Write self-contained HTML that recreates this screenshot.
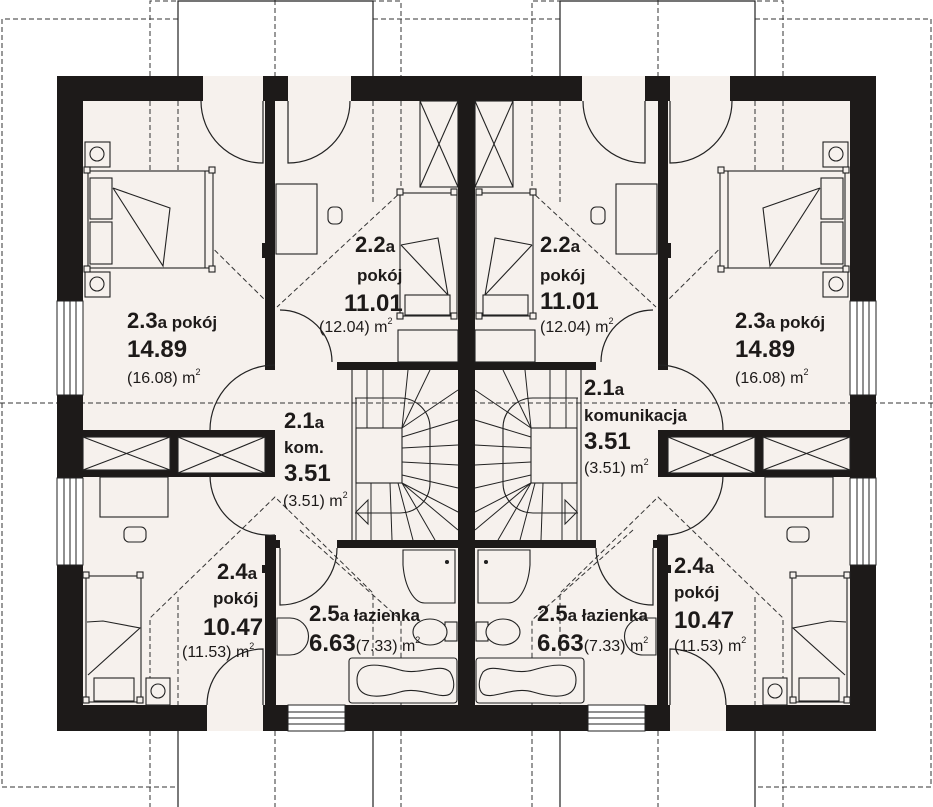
<!DOCTYPE html>
<html><head><meta charset="utf-8"><style>
html,body{margin:0;padding:0;background:#fff;}
svg{display:block;}
text{font-family:"Liberation Sans",Arial,sans-serif;fill:#1d1a19;}
.b{font-weight:bold;}
.m{font-weight:bold;font-size:17px;}
</style></head><body>
<svg width="933" height="807" viewBox="0 0 933 807" xmlns="http://www.w3.org/2000/svg">
<defs>
<g id="L">
  <rect x="57" y="76" width="410" height="655" fill="#f6f1ed"/>
  <g fill="none" stroke="#333" stroke-width="1" stroke-dasharray="5,3">
    <polyline points="178,19 2,19 2,787 178,787"/>
    <polyline points="150,76 150,1 401,1 401,76"/>
    <line x1="275" y1="0" x2="275" y2="76"/>
    <line x1="373" y1="19" x2="467" y2="19"/>
    <line x1="0" y1="403" x2="467" y2="403"/>
    <polyline points="150,101 150,186 265,300"/>
    <line x1="178" y1="101" x2="178" y2="213"/>
    <line x1="373" y1="101" x2="373" y2="205"/>
    <polyline points="401,101 401,192 277,307"/>
    <polyline points="150,705 150,618 275,497 373,593 373,705"/>
    <line x1="178" y1="597" x2="178" y2="705"/>
    <polyline points="300,530 401,620 401,705"/>
    <polyline points="150,731 150,807"/>
    <line x1="275" y1="731" x2="275" y2="807"/>
    <line x1="401" y1="731" x2="401" y2="807"/>
  </g>
  <g fill="none" stroke="#222" stroke-width="1.2">
    <polyline points="178,76 178,1 373,1 373,76"/>
    <line x1="178" y1="731" x2="178" y2="807"/>
    <line x1="373" y1="731" x2="373" y2="807"/>
  </g>
  <g fill="#1d1a19">
    <rect x="57" y="76" width="146" height="25"/>
    <rect x="263" y="76" width="25" height="25"/>
    <rect x="351" y="76" width="116" height="25"/>
    <rect x="57" y="76" width="26" height="225"/>
    <rect x="57" y="395" width="26" height="83"/>
    <rect x="57" y="565" width="26" height="166"/>
    <rect x="57" y="705" width="150" height="26"/>
    <rect x="263" y="705" width="25" height="26"/>
    <rect x="345" y="705" width="122" height="26"/>
    <rect x="458" y="76" width="9" height="655"/>
    <rect x="265" y="101" width="10" height="269"/>
    <rect x="262" y="243" width="5" height="15"/>
    <rect x="83" y="430" width="192" height="7"/>
    <rect x="170" y="430" width="8" height="47"/>
    <rect x="265" y="430" width="10" height="47"/>
    <rect x="83" y="470" width="95" height="7"/>
    <rect x="178" y="473" width="97" height="4"/>
    <rect x="265" y="535" width="11" height="170"/>
    <rect x="262" y="565" width="5" height="8"/>
    <rect x="337" y="362" width="130" height="8"/>
    <rect x="412" y="347" width="23" height="18"/>
    <rect x="337" y="540" width="130" height="8"/>
    <rect x="265" y="540" width="15" height="8"/>
  </g>
  <g fill="#fff" stroke="#222" stroke-width="1">
    <rect x="57" y="301" width="26" height="94"/>
    <rect x="57" y="478" width="26" height="87"/>
    <rect x="288" y="705" width="57" height="26"/>
  </g>
  <g stroke="#222" stroke-width="1">
    <line x1="64" y1="301" x2="64" y2="395"/><line x1="70" y1="301" x2="70" y2="395"/><line x1="76" y1="301" x2="76" y2="395"/>
    <line x1="64" y1="478" x2="64" y2="565"/><line x1="70" y1="478" x2="70" y2="565"/><line x1="76" y1="478" x2="76" y2="565"/>
    <line x1="288" y1="712" x2="345" y2="712"/><line x1="288" y1="718" x2="345" y2="718"/><line x1="288" y1="724" x2="345" y2="724"/>
  </g>
  <g fill="none" stroke="#222" stroke-width="1.2">
    <path d="M201,101 A62,62 0 0 0 263,163 L263,101"/>
    <path d="M350,101 A62,62 0 0 1 288,163 L288,101"/>
    <path d="M210,430 A65,65 0 0 1 275,365"/>
    <path d="M210,475 A60,60 0 0 0 275,535"/>
    <path d="M280,310 A52,52 0 0 1 332,362"/>
    <path d="M337,548 A57,57 0 0 1 280,605 L280,548"/>
    <path d="M207,705 A56,56 0 0 1 263,649 L263,705"/>
  </g>
  <g fill="#f6f1ed" stroke="#222" stroke-width="1.1">
    <rect x="85" y="142" width="25" height="25"/><circle cx="97" cy="154" r="7"/>
    <rect x="85" y="272" width="25" height="25"/><circle cx="97" cy="284" r="7"/>
    <rect x="88" y="171" width="125" height="97"/>
    <rect x="90" y="178" width="22" height="41"/><rect x="90" y="222" width="22" height="42"/>
    <line x1="205" y1="171" x2="205" y2="268"/>
    <polyline points="113,188 170,208 163,266 113,188" fill="none"/>
    <rect x="84" y="167" width="6" height="6"/><rect x="84" y="266" width="6" height="6"/>
    <rect x="209" y="167" width="6" height="6"/><rect x="209" y="266" width="6" height="6"/>
    <rect x="420" y="101" width="38" height="86"/>
    <line x1="420" y1="101" x2="458" y2="187"/><line x1="458" y1="101" x2="420" y2="187"/>
    <rect x="276" y="184" width="41" height="70"/>
    <rect x="328" y="207" width="14" height="17" rx="5"/>
    <rect x="398" y="330" width="60" height="32"/>
    <rect x="400" y="193" width="57" height="123"/>
    <polyline points="401,245 438,238 448,295 401,245" fill="none"/>
    <rect x="405" y="295" width="45" height="20"/>
    <rect x="397" y="189" width="6" height="6"/><rect x="451" y="189" width="6" height="6"/>
    <rect x="397" y="313" width="6" height="6"/><rect x="451" y="313" width="6" height="6"/>
    <rect x="83" y="437" width="87" height="33"/>
    <line x1="83" y1="437" x2="170" y2="470"/><line x1="170" y1="437" x2="83" y2="470"/>
    <rect x="178" y="437" width="87" height="36"/>
    <line x1="178" y1="437" x2="265" y2="473"/><line x1="265" y1="437" x2="178" y2="473"/>
    <rect x="100" y="477" width="68" height="40"/>
    <rect x="124" y="527" width="22" height="15" rx="5"/>
    <rect x="86" y="576" width="55" height="126"/>
    <polyline points="87,622 103,621 140,628 88,675" fill="none"/>
    <rect x="94" y="678" width="40" height="23"/>
    <rect x="83" y="572" width="6" height="6"/><rect x="137" y="572" width="6" height="6"/>
    <rect x="83" y="697" width="6" height="6"/><rect x="137" y="697" width="6" height="6"/>
    <rect x="146" y="678" width="24" height="27"/><circle cx="158" cy="691" r="7"/>
    <path d="M403,550 L455,550 L455,603 L425,603 A22,45 0 0 1 403,565 Z"/>
    <circle cx="447" cy="562" r="1.5" fill="#222"/>
    <rect x="445" y="622" width="12" height="19"/>
    <ellipse cx="430" cy="632" rx="17" ry="13"/>
    <rect x="349" y="658" width="108" height="45" rx="3"/>
    <path d="M357,680 C357,660 380,664 400,670 C420,676 440,662 450,672 C455,680 455,690 450,694 C440,700 420,686 400,692 C380,698 357,700 357,680 Z"/>
    <path d="M277,618 L290,618 A18,18 0 0 1 290,655 L277,655 Z"/>
    <path d="M355,398 L400,398 A30,30 0 0 1 430,428 L430,483 A30,30 0 0 1 400,513 L355,513" fill="none"/>
    <line x1="352" y1="370" x2="352" y2="540"/>
    <rect x="356" y="428" width="46" height="55"/>
  </g>
  <g stroke="#222" stroke-width="1" fill="none">
    <line x1="367" y1="370" x2="367" y2="428"/><line x1="383" y1="370" x2="383" y2="428"/>
    <line x1="402" y1="428" x2="408" y2="370"/><line x1="402" y1="428" x2="430" y2="370"/>
    <line x1="402" y1="428" x2="458" y2="390"/><line x1="402" y1="437" x2="458" y2="420"/>
    <line x1="402" y1="448" x2="458" y2="445"/><line x1="402" y1="462" x2="458" y2="465"/>
    <line x1="402" y1="475" x2="458" y2="488"/><line x1="402" y1="483" x2="458" y2="512"/>
    <line x1="402" y1="483" x2="458" y2="530"/><line x1="402" y1="483" x2="435" y2="540"/>
    <line x1="398" y1="483" x2="413" y2="540"/><line x1="390" y1="483" x2="392" y2="540"/>
    <line x1="371" y1="483" x2="371" y2="540"/>
    <line x1="356" y1="398" x2="356" y2="540"/>
    <polygon points="356,512 368,500 368,524"/>
  </g>
</g>
</defs>
<use href="#L"/>
<use href="#L" transform="translate(933,0) scale(-1,1)"/>

<text x="127" y="328" class="b" font-size="22">2.3<tspan class="m">a pokój</tspan></text>
<text x="127" y="357" class="b" font-size="24">14.89</text>
<text x="127" y="383" font-size="16">(16.08) m<tspan font-size="9" dy="-8">2</tspan></text>

<text x="355" y="252" class="b" font-size="22">2.2<tspan class="m">a</tspan></text>
<text x="357" y="281" class="m">pokój</text>
<text x="344" y="311" class="b" font-size="24">11.01</text>
<text x="319" y="332" font-size="16">(12.04) m<tspan font-size="9" dy="-8">2</tspan></text>

<text x="284" y="428" class="b" font-size="22">2.1<tspan class="m">a</tspan></text>
<text x="284" y="453" class="m">kom.</text>
<text x="284" y="481" class="b" font-size="24">3.51</text>
<text x="283" y="506" font-size="16">(3.51) m<tspan font-size="9" dy="-8">2</tspan></text>

<text x="217" y="579" class="b" font-size="22">2.4<tspan class="m">a</tspan></text>
<text x="213" y="604" class="m">pokój</text>
<text x="203" y="635" class="b" font-size="24">10.47</text>
<text x="182" y="657" font-size="16">(11.53) m<tspan font-size="9" dy="-8">2</tspan></text>

<text x="309" y="621" class="b" font-size="22">2.5<tspan class="m">a łazienka</tspan></text>
<text x="309" y="651" class="b" font-size="24">6.63<tspan font-size="16" font-weight="normal">(7.33) m</tspan><tspan font-size="9" font-weight="normal" dy="-8">2</tspan></text>

<text x="540" y="252" class="b" font-size="22">2.2<tspan class="m">a</tspan></text>
<text x="540" y="281" class="m">pokój</text>
<text x="540" y="309" class="b" font-size="24">11.01</text>
<text x="540" y="332" font-size="16">(12.04) m<tspan font-size="9" dy="-8">2</tspan></text>

<text x="735" y="328" class="b" font-size="22">2.3<tspan class="m">a pokój</tspan></text>
<text x="735" y="357" class="b" font-size="24">14.89</text>
<text x="735" y="383" font-size="16">(16.08) m<tspan font-size="9" dy="-8">2</tspan></text>

<text x="584" y="395" class="b" font-size="22">2.1<tspan class="m">a</tspan></text>
<text x="584" y="421" class="m">komunikacja</text>
<text x="584" y="449" class="b" font-size="24">3.51</text>
<text x="584" y="473" font-size="16">(3.51) m<tspan font-size="9" dy="-8">2</tspan></text>

<text x="674" y="573" class="b" font-size="22">2.4<tspan class="m">a</tspan></text>
<text x="674" y="598" class="m">pokój</text>
<text x="674" y="628" class="b" font-size="24">10.47</text>
<text x="674" y="651" font-size="16">(11.53) m<tspan font-size="9" dy="-8">2</tspan></text>

<text x="537" y="621" class="b" font-size="22">2.5<tspan class="m">a łazienka</tspan></text>
<text x="537" y="651" class="b" font-size="24">6.63<tspan font-size="16" font-weight="normal">(7.33) m</tspan><tspan font-size="9" font-weight="normal" dy="-8">2</tspan></text>
</svg>
</body></html>
